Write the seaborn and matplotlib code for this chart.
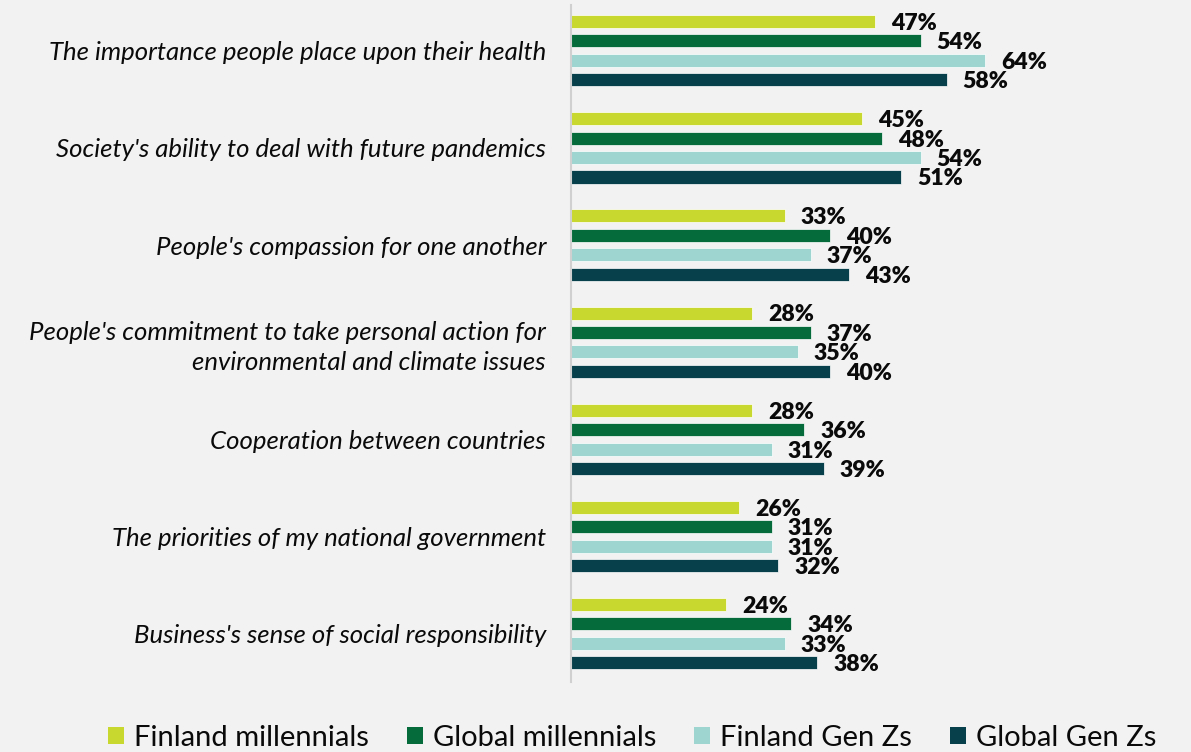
import pandas as pd
import numpy as np
import matplotlib.pyplot as plt
import seaborn as sns
from matplotlib.patches import Patch

# survey questions, top to bottom
categories = [
    "The importance people place upon their health",
    "Society's ability to deal with future pandemics",
    "People's compassion for one another",
    "People's commitment to take personal action for\nenvironmental and climate issues",
    "Cooperation between countries",
    "The priorities of my national government",
    "Business's sense of social responsibility",
]
groups = ["Finland millennials", "Global millennials", "Finland Gen Zs", "Global Gen Zs"]

finland_millennials = [47, 45, 33, 28, 28, 26, 24]
global_millennials = [54, 48, 40, 37, 36, 31, 34]
finland_genz = [64, 54, 37, 35, 31, 31, 33]
global_genz = [58, 51, 43, 40, 39, 32, 38]

colors = ["#c8d82f", "#066b3a", "#9fd5d0", "#07404a"]
bg = "#f2f2f2"

df = pd.DataFrame({
    "question": categories,
    groups[0]: finland_millennials,
    groups[1]: global_millennials,
    groups[2]: finland_genz,
    groups[3]: global_genz,
})
long = df.melt(id_vars="question", var_name="group", value_name="pct")

sns.set_theme(style="white")
plt.rcParams["font.family"] = ["Lato", "DejaVu Sans"]

fig = plt.figure(figsize=(11.91, 7.52), dpi=100, facecolor=bg)
ax = fig.add_axes([571 / 1191, 1 - 682 / 752, 518 / 1191, 677 / 752])
ax.set_facecolor(bg)

sns.barplot(data=long, y="question", x="pct", hue="group", hue_order=groups,
            order=categories, palette=colors, saturation=1, orient="h",
            width=0.8, gap=0.33, edgecolor="white", linewidth=0.5,
            legend=False, ax=ax)

# value labels just right of each bar, nudged a bit down
for cont in ax.containers:
    for bar in cont:
        w = bar.get_width()
        yc = bar.get_y() + bar.get_height() / 2
        ax.annotate(f"{w:.0f}%", xy=(w, yc), xytext=(11.5, -1.4),
                    textcoords="offset points", ha="left", va="center",
                    fontsize=16.6, fontweight="heavy", color="#0a0a0a")

ax.set_xlim(0, 80)
ax.set_ylim(6.497, -0.470)
ax.set_xticks([])
ax.set_xlabel("")
ax.set_ylabel("")
ax.tick_params(axis="y", length=0, pad=18)
for lab in ax.get_yticklabels():
    lab.set_fontstyle("italic")
    lab.set_fontsize(18.5)
    lab.set_color("#0a0a0a")
    lab.set_linespacing(1.35)

for s in ["top", "right", "bottom"]:
    ax.spines[s].set_visible(False)
ax.spines["left"].set_color("#d0d0d0")
ax.spines["left"].set_linewidth(1.5)

handles = [Patch(facecolor=c, edgecolor="none") for c in colors]
fig.legend(handles, groups, loc="center", bbox_to_anchor=(0.531, 1 - 738 / 752),
           ncol=4, frameon=False, fontsize=21, handlelength=0.55, handleheight=0.55,
           handletextpad=0.34, columnspacing=1.3, labelcolor="#0a0a0a")

fig.savefig("out.png", dpi=100, facecolor=bg)
